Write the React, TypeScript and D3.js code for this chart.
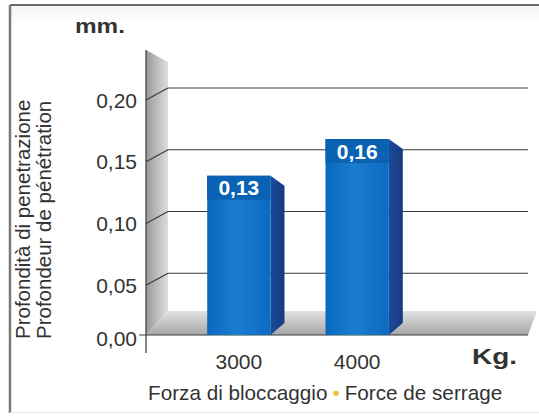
import React from "react";
import * as d3 from "d3";

const categories = ["3000", "4000"];
const values = [0.13, 0.16];
const yTicks = [0, 0.05, 0.1, 0.15, 0.2];
const yUnit = "mm.";
const xUnit = "Kg.";
const yTitle1 = "Profondità di penetrazione";
const yTitle2 = "Profondeur de pénétration";
const xTitle1 = "Forza di bloccaggio";
const xTitle2 = "Force de serrage";

const W = 539;
const H = 416;
const FONT = "'Liberation Sans', Arial, sans-serif";

const fmt = (v: number) => d3.format(".2f")(v).replace(".", ",");

export default function App() {
  const wallX0 = 146;
  const depthX = 22;
  const depthY = 12;
  const wallX1 = wallX0 + depthX;
  const plotRight = 528;
  const floorFront = 335;
  const floorBack = 311;

  const yBack = d3.scaleLinear().domain([0, 0.2]).range([335, 88]);
  const yBar = d3.scaleLinear().domain([0, 0.2]).range([floorFront, 90]);
  const x = d3
    .scaleBand<string>()
    .domain(categories)
    .range([180, 416])
    .paddingInner(0.465)
    .paddingOuter(0.23);

  const sideW = 14;
  const bw = x.bandwidth();

  return (
    <svg
      width={W}
      height={H}
      style={{ position: "absolute", left: 0, top: 0, background: "#fff" }}
    >
      <defs>
        <linearGradient id="wallG" x1="0" x2="1" y1="0" y2="0">
          <stop offset="0" stopColor="#9a9a9a" />
          <stop offset="1" stopColor="#dedede" />
        </linearGradient>
        <linearGradient id="floorG" x1="0" x2="0" y1="0" y2="1">
          <stop offset="0" stopColor="#e2e2e2" />
          <stop offset="1" stopColor="#a6a6a6" />
        </linearGradient>
        <linearGradient id="barG" x1="0" x2="1" y1="0" y2="0">
          <stop offset="0" stopColor="#0868bd" />
          <stop offset="0.45" stopColor="#1a7dd0" />
          <stop offset="1" stopColor="#0b6bc0" />
        </linearGradient>
        <linearGradient id="sideG" x1="0" x2="1" y1="0" y2="0">
          <stop offset="0" stopColor="#1c4a9a" />
          <stop offset="1" stopColor="#173a80" />
        </linearGradient>
        <linearGradient id="frameShade" x1="0" x2="0" y1="0" y2="1">
          <stop offset="0" stopColor="#f4f4f4" />
          <stop offset="0.05" stopColor="#ffffff" />
        </linearGradient>
      </defs>

      {/* frame */}
      <rect x={10} y={5} width={W - 10} height={407} fill="url(#frameShade)" />
      <line x1={10} x2={W} y1={5} y2={5} stroke="#6a6a6a" strokeWidth={2} />
      <line x1={10} x2={10} y1={5} y2={413} stroke="#7a7a7a" strokeWidth={2.5} />
      <line x1={10} x2={W} y1={412.5} y2={412.5} stroke="#e6e6e6" strokeWidth={1} />

      {/* wall */}
      <polygon
        points={`${wallX0},50 ${wallX1},62 ${wallX1},${floorBack} ${wallX0},${floorFront}`}
        fill="url(#wallG)"
      />

      {/* floor */}
      <polygon
        points={`${wallX0},${floorFront} ${plotRight},${floorFront} ${plotRight + 9},${floorBack} ${wallX1},${floorBack}`}
        fill="url(#floorG)"
      />

      {/* gridlines */}
      {yTicks
        .filter((t) => t > 0)
        .map((t) => (
          <g key={t}>
            <line
              x1={wallX0}
              y1={yBack(t) + depthY}
              x2={wallX1}
              y2={yBack(t)}
              stroke="#3a3a3a"
              strokeWidth={1.2}
            />
            <line
              x1={wallX1}
              y1={yBack(t)}
              x2={plotRight}
              y2={yBack(t)}
              stroke="#3a3a3a"
              strokeWidth={1.2}
            />
          </g>
        ))}

      {/* axis lines */}
      <line x1={wallX0} x2={wallX0} y1={50} y2={353} stroke="#3a3a3a" strokeWidth={1.2} />
      <line x1={139} x2={plotRight} y1={floorFront} y2={floorFront} stroke="#3a3a3a" strokeWidth={1.2} />

      {/* bars */}
      {categories.map((c, i) => {
        const x0 = x(c) as number;
        const yt = yBar(values[i]);
        const yb = yBar(0);
        return (
          <g key={c}>
            <polygon
              points={`${x0 + bw},${yt} ${x0 + bw + sideW},${yt + 10} ${x0 + bw + sideW},${yb - 12} ${x0 + bw},${yb}`}
              fill="url(#sideG)"
            />
            <rect x={x0} y={yt} width={bw} height={yb - yt} fill="url(#barG)" />
            <rect x={x0} y={yt} width={bw} height={24} fill="#0a62b2" />
            <text
              x={x0 + bw / 2}
              y={yt + 12}
              textAnchor="middle"
              dominantBaseline="central"
              fill="#fff"
              fontFamily={FONT}
              fontWeight="bold"
              fontSize={21}
            >
              {fmt(values[i])}
            </text>
          </g>
        );
      })}

      {/* y tick labels */}
      {yTicks.map((t) => (
        <text
          key={t}
          x={137}
          y={t === 0 ? floorFront + 3 : yBack(t) + depthY}
          textAnchor="end"
          dominantBaseline="central"
          fill="#333"
          fontFamily={FONT}
          fontSize={21}
        >
          {fmt(t)}
        </text>
      ))}

      {/* x tick labels */}
      {categories.map((c) => (
        <text
          key={c}
          x={(x(c) as number) + bw / 2}
          y={361}
          textAnchor="middle"
          dominantBaseline="central"
          fill="#333"
          fontFamily={FONT}
          fontSize={21}
        >
          {c}
        </text>
      ))}

      {/* units */}
      <text
        x={75}
        y={33}
        fill="#333"
        fontFamily={FONT}
        fontWeight="bold"
        fontSize={21}
        textLength={50}
        lengthAdjust="spacingAndGlyphs"
      >
        {yUnit}
      </text>
      <text
        x={472}
        y={364}
        fill="#333"
        fontFamily={FONT}
        fontWeight="bold"
        fontSize={22}
        textLength={45}
        lengthAdjust="spacingAndGlyphs"
      >
        {xUnit}
      </text>

      {/* y titles */}
      <text
        transform="translate(30,339) rotate(-90)"
        fill="#333"
        fontFamily={FONT}
        fontSize={20.5}
      >
        {yTitle1}
      </text>
      <text
        transform="translate(51,339) rotate(-90)"
        fill="#333"
        fontFamily={FONT}
        fontSize={20.5}
      >
        {yTitle2}
      </text>

      {/* x title */}
      <text x={148} y={400} fill="#333" fontFamily={FONT} fontSize={20.7}>
        {xTitle1}
        <tspan fill="#e6c640" dx={5}>•</tspan>
        <tspan fill="#333" dx={5}>{xTitle2}</tspan>
      </text>
    </svg>
  );
}
